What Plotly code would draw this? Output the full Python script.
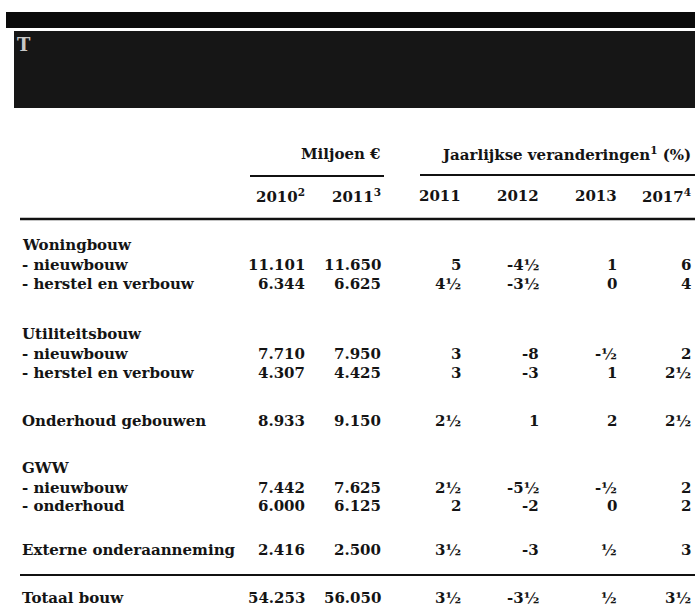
import plotly.graph_objects as go

# ---- data ----
row_labels = ["Woningbouw", "- nieuwbouw", "- herstel en verbouw",
              "Utiliteitsbouw", "- nieuwbouw", "- herstel en verbouw",
              "Onderhoud gebouwen",
              "GWW", "- nieuwbouw", "- onderhoud",
              "Externe onderaanneming", "Totaal bouw"]
mln_2010 = [None, 11101, 6344, None, 7710, 4307, 8933, None, 7442, 6000, 2416, 54253]
mln_2011 = [None, 11650, 6625, None, 7950, 4425, 9150, None, 7625, 6125, 2500, 56050]
chg_2011 = [None, 5, 4.5, None, 3, 3, 2.5, None, 2.5, 2, 3.5, 3.5]
chg_2012 = [None, -4.5, -3.5, None, -8, -3, 1, None, -5.5, -2, -3, -3.5]
chg_2013 = [None, 1, 0, None, -0.5, 1, 2, None, -0.5, 0, 0.5, 0.5]
chg_2017 = [None, 6, 4, None, 2, 2.5, 2.5, None, 2, 2, 3, 3.5]
col_headers = ["2010<sup>2</sup>", "2011<sup>3</sup>", "2011", "2012", "2013", "2017<sup>4</sup>"]
group_headers = ["Miljoen €", "Jaarlijkse veranderingen<sup>1</sup> (%)"]

# ---- layout constants ----
W, H = 695, 612
row_y = [245, 265, 284, 334, 354, 373, 421, 468, 488, 506, 550, 598]
col_x = [307, 383, 463, 541, 619, 693]
label_x = 20
FONT = dict(family="DejaVu Serif", size=15, color="#141414", weight="bold")


def fmt_mln(v):
    return f"{v:,}".replace(",", ".")


def fmt_pct(v):
    neg = v < 0
    a = abs(v)
    whole = int(a)
    half = (a - whole) >= 0.25
    s = ("" if whole == 0 and half else str(whole)) + ("½" if half else "")
    return ("-" if neg else "") + s


ann = []
for lbl, y in zip(row_labels, row_y):
    ann.append(dict(x=label_x, y=y, text=lbl, xanchor="left", yanchor="middle",
                    showarrow=False, font=FONT, xref="x", yref="y"))

columns = [(mln_2010, fmt_mln), (mln_2011, fmt_mln),
           (chg_2011, fmt_pct), (chg_2012, fmt_pct), (chg_2013, fmt_pct), (chg_2017, fmt_pct)]
for (vals, f), cx in zip(columns, col_x):
    for v, y in zip(vals, row_y):
        if v is None:
            continue
        ann.append(dict(x=cx, y=y, text=f(v), xanchor="right", yanchor="middle",
                        showarrow=False, font=FONT, xref="x", yref="y"))

for h, cx in zip(col_headers, col_x):
    ann.append(dict(x=cx, y=196, text=h, xanchor="right", yanchor="middle",
                    showarrow=False, font=FONT, xref="x", yref="y"))

ann.append(dict(x=col_x[1], y=154, text=group_headers[0], xanchor="right", yanchor="middle",
                showarrow=False, font=FONT, xref="x", yref="y"))
ann.append(dict(x=col_x[5], y=154, text=group_headers[1], xanchor="right", yanchor="middle",
                showarrow=False, font=FONT, xref="x", yref="y"))

# title block (scanned, illegible)
ann.append(dict(x=15, y=44, text="T", xanchor="left", yanchor="middle", showarrow=False,
                font=dict(family="DejaVu Serif", size=18, color="#c8c8c8", weight="bold"),
                xref="x", yref="y"))

shapes = [
    dict(type="rect", x0=6, x1=W, y0=12, y1=28, fillcolor="#0a0a0a", line_width=0, layer="below"),
    dict(type="rect", x0=14, x1=W, y0=31, y1=108, fillcolor="#161616", line_width=0, layer="below"),
    dict(type="line", x0=250, x1=384, y0=176, y1=176, line=dict(color="#111", width=2)),
    dict(type="line", x0=420, x1=W, y0=175, y1=175, line=dict(color="#111", width=2)),
    dict(type="line", x0=20, x1=W, y0=219, y1=219, line=dict(color="#111", width=2.5)),
    dict(type="line", x0=20, x1=W, y0=575, y1=575, line=dict(color="#111", width=2)),
]

fig = go.Figure()
fig.add_trace(go.Scatter(x=[0, W], y=[0, H], mode="markers", marker=dict(opacity=0),
                         hoverinfo="skip", showlegend=False))
fig.update_layout(
    width=W, height=H, margin=dict(l=0, r=0, t=0, b=0),
    paper_bgcolor="white", plot_bgcolor="white",
    xaxis=dict(range=[0, W], visible=False, fixedrange=True),
    yaxis=dict(range=[H, 0], visible=False, fixedrange=True),
    annotations=ann, shapes=shapes, showlegend=False,
)
fig.write_html("out.html", config={"displayModeBar": False},
               post_script="document.body.style.margin='0';document.body.style.overflow='hidden';")
